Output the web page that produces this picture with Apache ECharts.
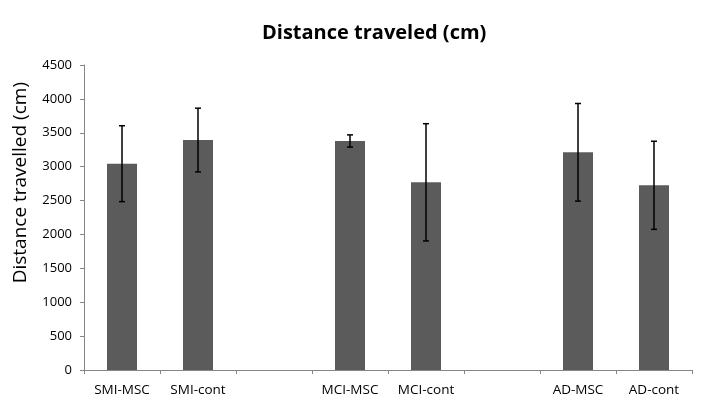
<!DOCTYPE html>
<html>
<head>
<meta charset="utf-8">
<script src="https://cdn.jsdelivr.net/npm/echarts@6/dist/echarts.min.js"></script>
<style>html,body{margin:0;padding:0;background:#fff}#c{width:708px;height:407px}</style>
</head>
<body>
<div id="c"></div>
<script>
const categories = ['SMI-MSC', 'SMI-cont', '', 'MCI-MSC', 'MCI-cont', '', 'AD-MSC', 'AD-cont'];
const means = [3044, 3393, null, 3379, 2769, null, 3212, 2725];
const errors = [560, 470, null, 90, 865, null, 720, 650];
const yTicks = [0, 500, 1000, 1500, 2000, 2500, 3000, 3500, 4000, 4500];

const chart = echarts.init(document.getElementById('c'));
const errData = means.map((m, i) => m == null ? null : [i, m - errors[i], m + errors[i]]).filter(d => d);
chart.setOption({
  animation: false,
  title: {
    text: 'Distance traveled (cm)', left: 257, top: 18,
    textStyle: { fontFamily: 'Open Sans', fontWeight: 'bold', fontSize: 20, color: '#000' }
  },
  graphic: [{
    type: 'text', left: 11, top: 82, rotation: Math.PI / 2,
    style: { text: 'Distance travelled (cm)', fontFamily: 'Open Sans', fontSize: 19, fill: '#000' }
  }],
  grid: { left: 84, right: 16, top: 65, bottom: 37 },
  xAxis: {
    type: 'category', data: categories,
    axisLine: { lineStyle: { color: '#868686' } },
    axisTick: { show: true, length: 4, lineStyle: { color: '#868686' } },
    axisLabel: { color: '#000', fontFamily: 'Open Sans', fontSize: 13.5, margin: 13, interval: 0 }
  },
  yAxis: {
    type: 'value', min: yTicks[0], max: yTicks[yTicks.length - 1], interval: 500,
    axisLine: { show: true, lineStyle: { color: '#868686' } },
    axisTick: { show: true, length: 4, lineStyle: { color: '#868686' } },
    splitLine: { show: false },
    axisLabel: { color: '#000', fontFamily: 'Open Sans', fontSize: 13, margin: 12, formatter: v => String(v) }
  },
  series: [
    {
      type: 'bar', data: means.map(v => v == null ? '-' : v), barWidth: 30,
      itemStyle: { color: '#5b5b5b' }
    },
    {
      type: 'custom', data: errData, z: 10,
      renderItem: function (params, api) {
        const x = api.value(0);
        const lo = api.coord([x, api.value(1)]);
        const hi = api.coord([x, api.value(2)]);
        const w = 3;
        const st = { stroke: '#000', lineWidth: 1.5 };
        return {
          type: 'group', children: [
            { type: 'line', shape: { x1: hi[0], y1: hi[1], x2: lo[0], y2: lo[1] }, style: st },
            { type: 'line', shape: { x1: hi[0] - w, y1: hi[1], x2: hi[0] + w, y2: hi[1] }, style: st },
            { type: 'line', shape: { x1: lo[0] - w, y1: lo[1], x2: lo[0] + w, y2: lo[1] }, style: st }
          ]
        };
      }
    }
  ]
});
</script>
</body>
</html>
